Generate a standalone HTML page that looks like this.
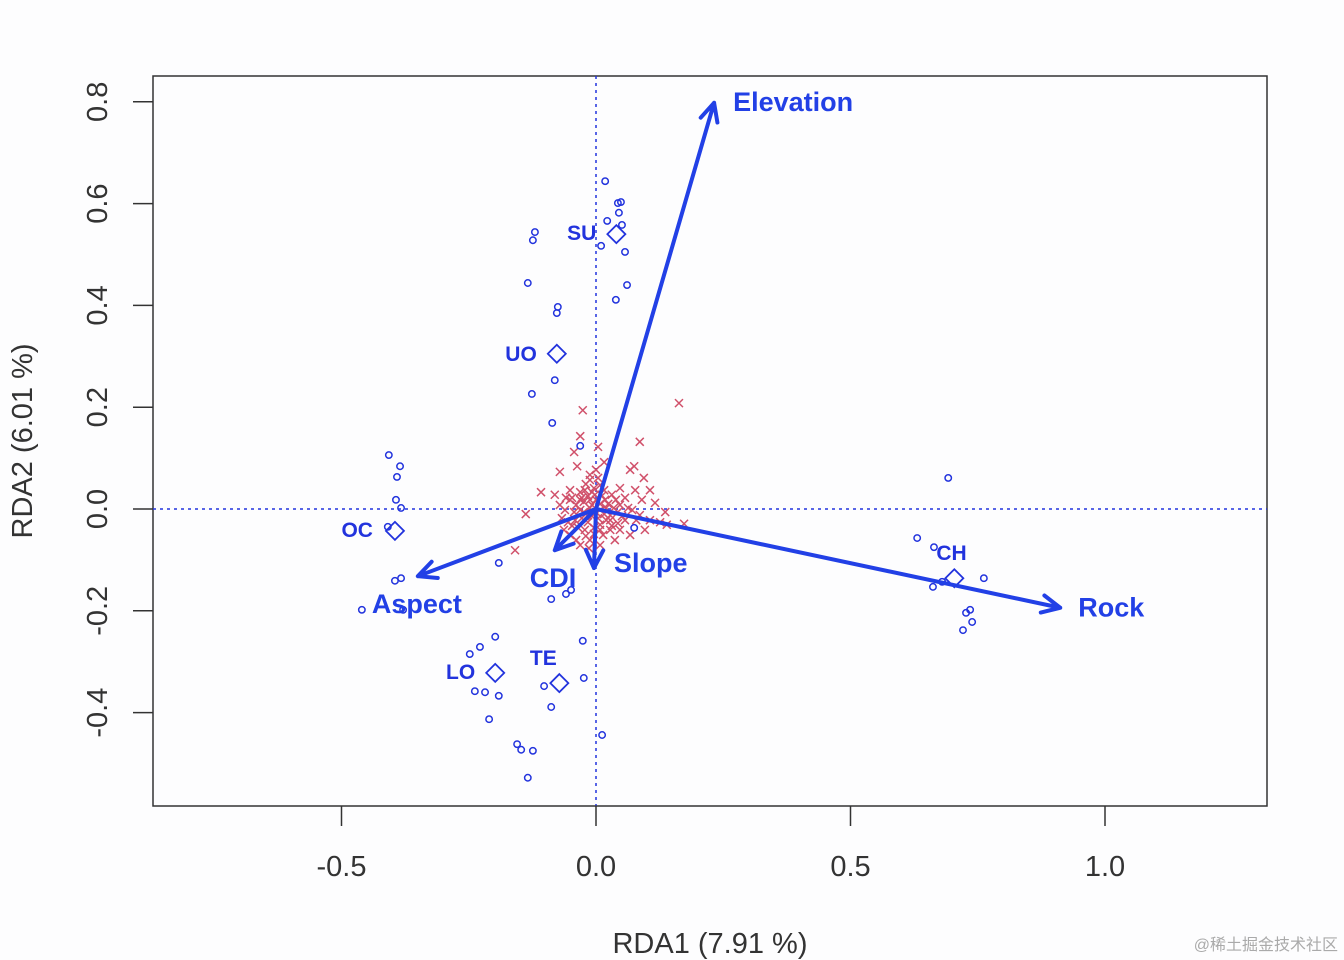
<!DOCTYPE html>
<html><head><meta charset="utf-8"><style>
body{margin:0;background:#fdfdfe;}
svg{display:block;font-family:"Liberation Sans",sans-serif;}
</style></head><body>
<svg id="c" width="1344" height="960"></svg>
<script>
const xTicks=[-0.5,0.0,0.5,1.0];
const yTicks=[-0.4,-0.2,0.0,0.2,0.4,0.6,0.8];
const sitePx=[[605,181],[621,202],[618,203],[619,213],[607,221],[622,225],[601,246],[625,252],[627,285],[616,300],[535,232],[533,240],[528,283],[558,307],[557,313],[555,380],[532,394],[552,423],[580,446],
[389,455],[400,466],[397,477],[396,500],[401,508],[388,527],[395,581],[401,578],[362,610],[403,610],
[948,478],[917,538],[934,547],[942,582],[933,587],[984,578],[966,613],[970,610],[972,622],[963,630],
[495,637],[480,647],[470,654],[475,691],[485,692],[499,696],[489,719],[517,744],[521,750],[533,751],[528,778],[544,686],[551,707],[583,641],[584,678],[602,735],[551,599],[566,594],[571,590],[499,563],[634,528]];
const siteX=sitePx.map(p=>+((p[0]-596)/509).toFixed(3));
const siteY=sitePx.map(p=>+((509-p[1])/509).toFixed(3));
const spPx=[[583,410],[679,403],[580,436],[640,442],[574,452],[598,447],[634,466],[644,478],[560,472],[577,466],[541,492],[526,514],[515,550],[655,503],[684,524],[630,470],[620,488],[635,490],[604,462],[590,475],[570,500],[565,510],[575,520],[585,530],[600,525],[610,515],[620,505],[625,520],[640,515],[650,520],[660,522],[665,512],[645,530],[630,535],[615,540],[600,545],[590,540],[580,545],[570,535],[560,505],[555,495],[585,490],[595,495],[605,500],[600,485],[590,500],[580,510],[570,490],[610,530],[625,498],[600,510],[592,505],[588,515],[598,518],[606,508],[582,498],[576,505],[612,495],[618,512],[594,488],[572,526],[562,518],[650,490],[632,510],[642,500],[667,525],[576,540],[589,548],[618,523],[603,535],
[590,480],[596,470],[586,484],[580,492],[584,502],[590,508],[596,500],[602,496],[608,504],[614,508],[588,522],[594,528],[582,518],[578,528],[600,530],[606,520],[612,526],[622,516],[628,508],[636,520],[574,512],[568,522],[566,498],[592,492],[598,478],[604,514],[586,536],[580,500],[592,516],[600,504],[596,512],[588,496],[610,520],[616,500],[604,490],[584,512],[572,498],[564,530],[594,534],[620,530]];
const spX=spPx.map(p=>+((p[0]-596)/509).toFixed(3));
const spY=spPx.map(p=>+((509-p[1])/509).toFixed(3));
const centNames=["SU","UO","OC","CH","LO","TE"];
const centX=[0.04,-0.077,-0.395,0.704,-0.198,-0.072];
const centY=[0.54,0.305,-0.043,-0.136,-0.322,-0.342];
const vecNames=["Elevation","Rock","Aspect","CDI","Slope"];
const vecX=[0.232,0.912,-0.35,-0.081,-0.004];
const vecY=[0.798,-0.194,-0.132,-0.081,-0.116];
const X=v=>596+v*509, Y=v=>509-v*509;
const s=document.getElementById('c');const NS="http://www.w3.org/2000/svg";
function mk(t,a,p){const e=document.createElementNS(NS,t);for(const k in a)e.setAttribute(k,a[k]);(p||s).appendChild(e);return e;}
const box=mk('rect',{x:153,y:76,width:1114,height:730,fill:'none',stroke:'#333','stroke-width':1.5});


mk('line',{x1:153,x2:1267,y1:Y(0),y2:Y(0),stroke:'#2233dd','stroke-dasharray':'3,4','stroke-width':1.5});
mk('line',{x1:X(0),x2:X(0),y1:76,y2:806,stroke:'#2233dd','stroke-dasharray':'3,4','stroke-width':1.5});
xTicks.forEach(v=>{mk('line',{x1:X(v),x2:X(v),y1:806,y2:826,stroke:'#333','stroke-width':1.5});
const t=mk('text',{x:X(v),y:876,'text-anchor':'middle','font-size':29,fill:'#333'});t.textContent=v.toFixed(1);

});
mk('line',{x1:341,x2:1104,y1:806,y2:806,stroke:'#333'});
yTicks.forEach(v=>{mk('line',{x1:133,x2:153,y1:Y(v),y2:Y(v),stroke:'#333','stroke-width':1.5});
const t=mk('text',{x:107,y:Y(v),'text-anchor':'middle','font-size':29,fill:'#333',transform:`rotate(-90 107 ${Y(v)})`});t.textContent=v.toFixed(1);

});
let t=mk('text',{x:710,y:953,'text-anchor':'middle','font-size':29,fill:'#333'});t.textContent='RDA1 (7.91 %)';


t=mk('text',{x:32,y:441,'text-anchor':'middle','font-size':29,fill:'#333',transform:'rotate(-90 32 441)'});t.textContent='RDA2 (6.01 %)';


spX.forEach((v,i)=>{const x=X(v),y=Y(spY[i]);const g=mk('path',{d:`M${x-4} ${y-4}L${x+4} ${y+4}M${x-4} ${y+4}L${x+4} ${y-4}`,stroke:'#d0506a','stroke-width':1.5});

});
siteX.forEach((v,i)=>{const c=mk('circle',{cx:X(v),cy:Y(siteY[i]),r:3.2,fill:'none',stroke:'#2233dd','stroke-width':1.5});

});
const lo=[[-20,6,'end'],[-20,7,'end'],[-22,6,'end'],[-18,-18,'start'],[-20,6,'end'],[-16,-18,'middle']];
centX.forEach((v,i)=>{const x=X(v),y=Y(centY[i]);const d=mk('path',{d:`M${x} ${y-9}L${x+9} ${y}L${x} ${y+9}L${x-9} ${y}Z`,fill:'none',stroke:'#2233dd','stroke-width':1.8});


const tt=mk('text',{x:x+lo[i][0],y:y+lo[i][1],'text-anchor':lo[i][2],'font-size':21,'font-weight':'bold',fill:'#2233dd'});tt.textContent=centNames[i];

});
const vo=[[19,8,'start'],[18,9,'start'],[-46,37,'start'],[-25,37,'start'],[20,4,'start']];
vecX.forEach((v,i)=>{const x=X(v),y=Y(vecY[i]),x0=X(0),y0=Y(0);
const a=Math.atan2(y-y0,x-x0),h=20;
const l=mk('path',{d:`M${x0} ${y0}L${x} ${y}M${x-h*Math.cos(a-0.45)} ${y-h*Math.sin(a-0.45)}L${x} ${y}L${x-h*Math.cos(a+0.45)} ${y-h*Math.sin(a+0.45)}`,fill:'none',stroke:'#2240e6','stroke-width':4,'stroke-linecap':'round','stroke-linejoin':'round'});


const tt=mk('text',{x:x+vo[i][0],y:y+vo[i][1],'text-anchor':vo[i][2],'font-size':27,'font-weight':'bold',fill:'#2240e6'});tt.textContent=vecNames[i];

});
t=mk('text',{x:1338,y:950,'text-anchor':'end','font-size':16,fill:'#aaa'});t.setAttribute('font-family','"Liberation Sans","Noto Sans CJK SC",sans-serif');t.textContent='@稀土掘金技术社区';


</script>
</body></html>
